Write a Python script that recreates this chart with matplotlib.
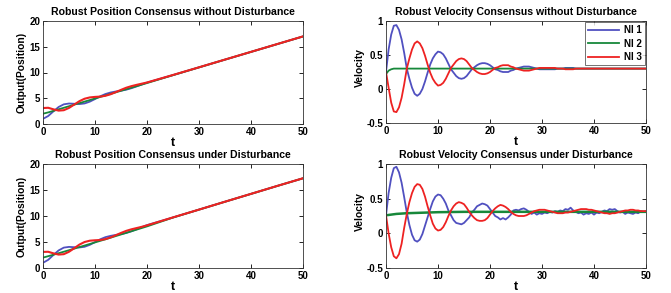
import numpy as np
import matplotlib
matplotlib.use("Agg")
import matplotlib.pyplot as plt

# ---------------- data ----------------
# fine time grid for velocity curves (0 .. 50 step 0.5)
t_vel = np.arange(0, 50.5, 0.5)

vel_ni1 = [0.25, 0.58, 0.80, 0.93, 0.94, 0.87, 0.73, 0.53, 0.30, 0.15,
           0.02, -0.07, -0.10, -0.07, 0.00, 0.11, 0.24, 0.36, 0.45, 0.51,
           0.55, 0.54, 0.51, 0.45, 0.37, 0.29, 0.24, 0.19, 0.16, 0.15,
           0.16, 0.19, 0.24, 0.29, 0.32, 0.35, 0.37, 0.38, 0.38, 0.37,
           0.35, 0.32, 0.29, 0.28, 0.26, 0.25, 0.25, 0.25, 0.27, 0.28,
           0.30, 0.31, 0.32, 0.33, 0.33, 0.33, 0.32, 0.31, 0.30, 0.29,
           0.29, 0.29, 0.29, 0.29, 0.29, 0.29, 0.30, 0.30, 0.30, 0.31,
           0.31, 0.31, 0.31, 0.30, 0.30, 0.30, 0.30, 0.30, 0.30, 0.30,
           0.30, 0.30, 0.30, 0.30, 0.30, 0.30, 0.30, 0.30, 0.30, 0.30,
           0.30, 0.30, 0.30, 0.30, 0.30, 0.30, 0.30, 0.30, 0.30, 0.30,
           0.30]
vel_ni3 = [0.25, 0.02, -0.20, -0.33, -0.34, -0.27, -0.13, 0.07, 0.30, 0.45,
           0.58, 0.67, 0.70, 0.67, 0.60, 0.49, 0.36, 0.24, 0.15, 0.09,
           0.05, 0.06, 0.09, 0.15, 0.23, 0.31, 0.36, 0.41, 0.44, 0.45,
           0.44, 0.41, 0.36, 0.31, 0.28, 0.25, 0.23, 0.22, 0.22, 0.23,
           0.25, 0.28, 0.31, 0.32, 0.34, 0.35, 0.35, 0.35, 0.33, 0.32,
           0.30, 0.29, 0.28, 0.27, 0.27, 0.27, 0.28, 0.29, 0.30, 0.31,
           0.31, 0.31, 0.31, 0.31, 0.31, 0.31, 0.30, 0.30, 0.30, 0.29,
           0.29, 0.29, 0.29, 0.30, 0.30, 0.30, 0.30, 0.30, 0.30, 0.30,
           0.30, 0.30, 0.30, 0.30, 0.30, 0.30, 0.30, 0.30, 0.30, 0.30,
           0.30, 0.30, 0.30, 0.30, 0.30, 0.30, 0.30, 0.30, 0.30, 0.30,
           0.30]
t_vel_ni2 = [0, 0.5, 1, 1.5, 2, 3, 50]
vel_ni2 = [0.22, 0.27, 0.29, 0.30, 0.30, 0.30, 0.30]

vel_dist_ni1 = [0.26, 0.58, 0.80, 0.94, 0.96, 0.88, 0.73, 0.52, 0.30, 0.12,
                -0.02, -0.10, -0.12, -0.09, -0.01, 0.11, 0.23, 0.35, 0.46, 0.53,
                0.56, 0.55, 0.50, 0.43, 0.33, 0.26, 0.19, 0.15, 0.14, 0.13,
                0.15, 0.19, 0.23, 0.30, 0.34, 0.39, 0.41, 0.43, 0.42, 0.40,
                0.35, 0.30, 0.25, 0.23, 0.20, 0.22, 0.20, 0.23, 0.27, 0.33,
                0.34, 0.33, 0.35, 0.36, 0.34, 0.31, 0.28, 0.30, 0.27, 0.29,
                0.28, 0.30, 0.29, 0.31, 0.30, 0.32, 0.31, 0.33, 0.32, 0.35,
                0.34, 0.37, 0.33, 0.31, 0.29, 0.30, 0.27, 0.29, 0.28, 0.30,
                0.27, 0.30, 0.29, 0.31, 0.33, 0.32, 0.35, 0.34, 0.35, 0.32,
                0.30, 0.31, 0.28, 0.30, 0.29, 0.28, 0.30, 0.29, 0.32, 0.31,
                0.32]
vel_dist_ni3 = [0.26, 0.00, -0.20, -0.33, -0.36, -0.30, -0.15, 0.08, 0.28, 0.45,
                0.58, 0.67, 0.71, 0.70, 0.64, 0.53, 0.39, 0.26, 0.14, 0.07,
                0.04, 0.05, 0.09, 0.16, 0.25, 0.33, 0.39, 0.43, 0.45, 0.44,
                0.42, 0.37, 0.31, 0.26, 0.22, 0.19, 0.18, 0.18, 0.19, 0.22,
                0.27, 0.32, 0.36, 0.39, 0.41, 0.40, 0.38, 0.35, 0.31, 0.28,
                0.26, 0.25, 0.25, 0.25, 0.26, 0.28, 0.30, 0.32, 0.33, 0.34,
                0.34, 0.34, 0.33, 0.32, 0.31, 0.30, 0.29, 0.29, 0.29, 0.30,
                0.30, 0.31, 0.32, 0.33, 0.34, 0.35, 0.35, 0.35, 0.34, 0.34,
                0.33, 0.32, 0.31, 0.30, 0.29, 0.29, 0.28, 0.29, 0.29, 0.30,
                0.31, 0.32, 0.33, 0.33, 0.34, 0.34, 0.33, 0.33, 0.32, 0.32,
                0.32]
t_vel_dist_ni2 = [0, 1, 2, 4, 6, 8, 10, 15, 20, 30, 40, 50]
vel_dist_ni2 = [0.26, 0.27, 0.28, 0.29, 0.295, 0.30, 0.305, 0.31, 0.31, 0.31, 0.31, 0.31]

# position curves
t_pos = [0, 1, 2, 3, 4, 5, 6, 7, 8, 9, 10, 11, 12, 13, 14, 15, 16, 17, 18, 19, 20,
         25, 30, 35, 40, 45, 50]
pos_ni1 = [1.0, 1.55, 2.45, 3.30, 3.82, 3.98, 3.93, 3.87, 3.99, 4.34, 4.84, 5.38,
           5.82, 6.12, 6.31, 6.47, 6.66, 6.95, 7.30, 7.67, 8.04,
           9.50, 11.00, 12.50, 14.00, 15.50, 17.00]
pos_ni2 = [2.0, 2.25, 2.55, 2.85, 3.15, 3.45, 3.75, 4.05, 4.35, 4.65, 4.95, 5.25,
           5.55, 5.85, 6.15, 6.45, 6.75, 7.05, 7.35, 7.65, 7.95,
           9.48, 10.99, 12.50, 14.00, 15.50, 17.00]
pos_ni3 = [3.1, 3.15, 2.85, 2.60, 2.68, 3.12, 3.77, 4.43, 4.91, 5.16, 5.26, 5.32,
           5.48, 5.78, 6.19, 6.63, 7.04, 7.35, 7.60, 7.83, 8.06,
           9.52, 11.01, 12.51, 14.01, 15.51, 17.01]

pos_dist_ni1 = [1.0, 1.57, 2.50, 3.38, 3.92, 4.06, 4.00, 3.95, 4.08, 4.45, 4.98, 5.52,
                5.93, 6.18, 6.36, 6.52, 6.74, 7.06, 7.44, 7.86, 8.25,
                9.72, 11.23, 12.75, 14.25, 15.77, 17.25]
pos_dist_ni2 = [2.0, 2.27, 2.55, 2.84, 3.13, 3.42, 3.72, 4.02, 4.32, 4.62, 4.92, 5.22,
                5.52, 5.83, 6.14, 6.45, 6.76, 7.07, 7.38, 7.69, 8.00,
                9.70, 11.22, 12.74, 14.25, 15.76, 17.25]
pos_dist_ni3 = [3.1, 3.12, 2.82, 2.58, 2.66, 3.12, 3.80, 4.50, 5.00, 5.25, 5.33, 5.38,
                5.55, 5.88, 6.30, 6.74, 7.14, 7.44, 7.68, 7.92, 8.20,
                9.73, 11.23, 12.75, 14.26, 15.77, 17.26]

labels = ["NI 1", "NI 2", "NI 3"]
titles = ["Robust Position Consensus without Disturbance",
          "Robust Velocity Consensus without Disturbance",
          "Robust Position Consensus under Disturbance",
          "Robust Velocity Consensus under Disturbance"]

# ---------------- style ----------------
C1, C2, C3 = "#5050c0", "#17883a", "#ee2222"
plt.rcParams["font.family"] = ["Liberation Sans", "DejaVu Sans"]
plt.rcParams["font.weight"] = "bold"

fig = plt.figure(figsize=(6.71, 2.93), dpi=100)
W, H = 671.0, 293.0

def make_ax(x0, x1, ytop, ybot):
    return fig.add_axes([x0 / W, 1 - ybot / H, (x1 - x0) / W, (ybot - ytop) / H])

ax_pl = make_ax(43, 303, 21, 124)
ax_vl = make_ax(386, 646, 21, 123)
ax_pd = make_ax(43, 303, 164, 268)
ax_vd = make_ax(386, 646, 164, 268)

def style(ax, title, ylabel, ylim, yticks, yticklabels, ylx, yly):
    ax.set_xlim(0, 50)
    ax.set_ylim(*ylim)
    ax.set_xticks([0, 10, 20, 30, 40, 50])
    ax.set_yticks(yticks)
    ax.set_yticklabels(yticklabels)
    ax.tick_params(direction="in", top=True, right=True, length=3, width=0.6,
                   labelsize=7, pad=2)
    for lab in ax.get_xticklabels() + ax.get_yticklabels():
        lab.set_fontweight("bold")
    for s in ax.spines.values():
        s.set_linewidth(0.6)
        s.set_color("#333333")
    ax.set_title(title, fontsize=7.6, fontweight="bold", pad=4)
    ax.set_xlabel("t", fontsize=9, fontweight="bold", labelpad=0)
    ax.set_ylabel(ylabel, fontsize=7.4, fontweight="bold")
    ax.yaxis.set_label_coords(ylx, yly)

lw = 1.3
ax_pl.plot(t_pos, pos_ni1, color=C1, lw=lw)
ax_pl.plot(t_pos, pos_ni2, color=C2, lw=lw)
ax_pl.plot(t_pos, pos_ni3, color=C3, lw=1.5)
style(ax_pl, titles[0], "Output(Position)", (0, 20), [0, 5, 10, 15, 20],
      ["0", "5", "10", "15", "20"], -0.062, 0.5)

ax_vl.plot(t_vel, vel_ni1, color=C1, lw=lw, label=labels[0])
ax_vl.plot(t_vel_ni2, vel_ni2, color=C2, lw=lw, label=labels[1])
ax_vl.plot(t_vel, vel_ni3, color=C3, lw=lw, label=labels[2])
style(ax_vl, titles[1], "Velocity", (-0.5, 1), [-0.5, 0, 0.5, 1],
      ["-0.5", "0", "0.5", "1"], -0.081, 0.54)
leg = ax_vl.legend(loc="upper right", fontsize=7, frameon=True, fancybox=False,
                   handlelength=3.2, borderpad=0.3, labelspacing=0.35,
                   handletextpad=0.5, borderaxespad=0.15)
leg.get_frame().set_edgecolor("#333333")
leg.get_frame().set_linewidth(0.6)
for txt in leg.get_texts():
    txt.set_fontweight("bold")

ax_pd.plot(t_pos, pos_dist_ni1, color=C1, lw=lw)
ax_pd.plot(t_pos, pos_dist_ni2, color=C2, lw=lw)
ax_pd.plot(t_pos, pos_dist_ni3, color=C3, lw=1.5)
style(ax_pd, titles[2], "Output(Position)", (0, 20), [0, 5, 10, 15, 20],
      ["0", "5", "10", "15", "20"], -0.062, 0.5)

ax_vd.plot(t_vel, vel_dist_ni1, color=C1, lw=lw)
ax_vd.plot(t_vel_dist_ni2, vel_dist_ni2, color=C2, lw=1.8)
ax_vd.plot(t_vel, vel_dist_ni3, color=C3, lw=lw)
style(ax_vd, titles[3], "Velocity", (-0.5, 1), [-0.5, 0, 0.5, 1],
      ["-0.5", "0", "0.5", "1"], -0.081, 0.54)

fig.savefig("out.png", dpi=100)
